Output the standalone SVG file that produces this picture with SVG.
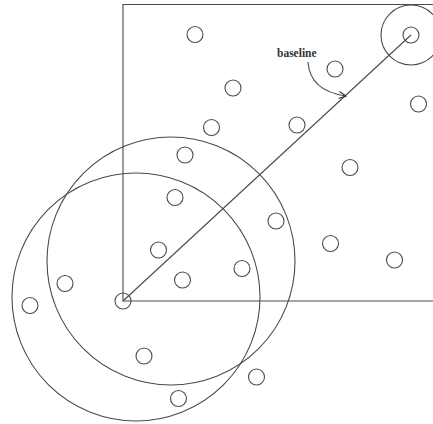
<svg xmlns="http://www.w3.org/2000/svg" width="433" height="424" viewBox="0 0 433 424">
<style>
.s{fill:none;stroke:#4a4a4a;stroke-width:1.1}
.p{fill:none;stroke:#4a4a4a;stroke-width:1.1}
.t{font-family:"Liberation Serif",serif;font-size:11.5px;font-weight:bold;fill:#333}
</style>
<defs>
<marker id="ah" markerWidth="10" markerHeight="10" refX="8" refY="5" orient="auto" markerUnits="userSpaceOnUse">
<polyline points="1,1.5 8,5 1,8.5" fill="none" stroke="#333" stroke-width="1.1"/>
</marker>
</defs>
<rect width="433" height="424" fill="#fff"/>
<g id="frame"><path class="s" d="M433,4.5 H123 V301 H433"/></g>
<g id="range-circles">
<circle class="s" cx="171" cy="261" r="124"/>
<circle class="s" cx="136" cy="297" r="124"/>
<circle class="s" cx="411" cy="35" r="30"/>
</g>
<g id="connectors">
<line class="s" x1="123" y1="301" x2="411" y2="35"/>
<path class="s" d="M308,62 Q310,91 346,96" marker-end="url(#ah)"/>
</g>
<g id="origin"><circle class="p" cx="123" cy="301" r="8"/></g>
<g id="target"><circle class="p" cx="411" cy="35" r="8"/></g>
<g id="label"><text class="t" x="277" y="57">baseline</text></g>
<g id="points">
<circle class="p" cx="195" cy="34.5" r="8"/>
<circle class="p" cx="233" cy="88" r="8"/>
<circle class="p" cx="335" cy="69" r="8"/>
<circle class="p" cx="418.5" cy="104" r="8"/>
<circle class="p" cx="297" cy="125" r="8"/>
<circle class="p" cx="211.5" cy="127.5" r="8"/>
<circle class="p" cx="185" cy="155" r="8"/>
<circle class="p" cx="350" cy="167.5" r="8"/>
<circle class="p" cx="175" cy="197.5" r="8"/>
<circle class="p" cx="276" cy="221" r="8"/>
<circle class="p" cx="158.5" cy="250" r="8"/>
<circle class="p" cx="330.5" cy="243.5" r="8"/>
<circle class="p" cx="394.5" cy="260" r="8"/>
<circle class="p" cx="242" cy="268.5" r="8"/>
<circle class="p" cx="182.5" cy="280" r="8"/>
<circle class="p" cx="65" cy="283.5" r="8"/>
<circle class="p" cx="30" cy="305.5" r="8"/>
<circle class="p" cx="144" cy="356" r="8"/>
<circle class="p" cx="256.5" cy="377" r="8"/>
<circle class="p" cx="178.5" cy="398.5" r="8"/>
</g>
</svg>
